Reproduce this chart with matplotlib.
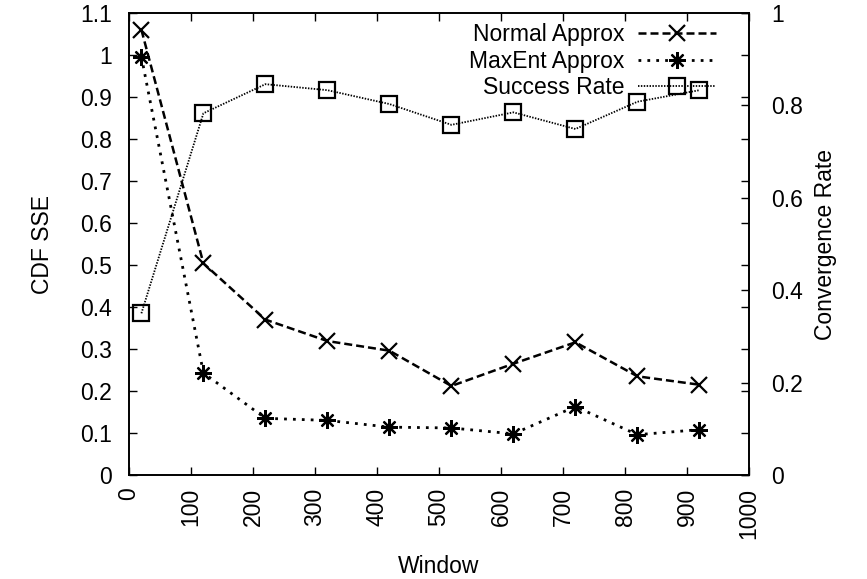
"""CDF SSE vs window size, with convergence rate on the second axis."""

import matplotlib
matplotlib.use("Agg")
import matplotlib.pyplot as plt
from matplotlib.lines import Line2D

plt.rcParams["font.family"] = ["Liberation Sans", "DejaVu Sans"]
plt.rcParams["font.size"] = 16.5

window = [20, 120, 220, 320, 420, 520, 620, 720, 820, 920]
normal_sse = [1.06, 0.504, 0.37, 0.319, 0.296, 0.212, 0.265, 0.316, 0.235, 0.215]
maxent_sse = [0.996, 0.243, 0.135, 0.13, 0.114, 0.112, 0.098, 0.163, 0.096, 0.108]
success_rate = [0.35, 0.783, 0.846, 0.833, 0.803, 0.758, 0.785, 0.749, 0.808, 0.833]

x_ticks = list(range(0, 1001, 100))
y_ticks = [i / 10 for i in range(12)]
y2_ticks = [0, 0.2, 0.4, 0.6, 0.8, 1]


def main():
    fig = plt.figure(figsize=(8.67, 5.79), dpi=100)
    ax = fig.add_axes([0.1488, 0.1796, 0.7151, 0.7979])
    ax2 = ax.twinx()

    normal_style = dict(color="black", lw=1.8, ls=(0, (3.2, 1.6)),
                        marker="x", ms=12, mew=1.6)
    maxent_style = dict(color="black", lw=2.0, ls=(0, (1.0, 2.2)),
                        marker=(8, 2, 0), ms=12, mew=1.6)
    success_style = dict(color="black", lw=1.3, ls=(0, (0.8, 0.8)),
                         marker="s", ms=11, mew=1.6, mfc="none")

    ax.plot(window, normal_sse, **normal_style)
    ax.plot(window, maxent_sse, **maxent_style)
    ax2.plot(window, success_rate, **success_style)

    ax.set_xlim(0, 1000)
    ax.set_ylim(0, 1.1)
    ax2.set_ylim(0, 1)
    ax.set_xticks(x_ticks)
    ax.set_xticklabels([str(t) for t in x_ticks], rotation=90)
    ax.set_yticks(y_ticks)
    ax.set_yticklabels(["0", "0.1", "0.2", "0.3", "0.4", "0.5", "0.6",
                        "0.7", "0.8", "0.9", "1", "1.1"])
    ax2.set_yticks(y2_ticks)
    ax2.set_yticklabels(["0", "0.2", "0.4", "0.6", "0.8", "1"])

    ax.tick_params(direction="in", length=6, width=1.0, top=True, right=True,
                   pad=12)
    ax.tick_params(axis="x", pad=9)
    ax2.tick_params(direction="in", length=6, width=1.0, pad=16)
    for a in (ax, ax2):
        for s in a.spines.values():
            s.set_linewidth(1.2)

    ax.set_xlabel("Window", labelpad=12)
    ax.set_ylabel("CDF SSE", labelpad=19)
    ax2.set_ylabel("Convergence Rate", labelpad=8)

    handles = [
        Line2D([0], [0], **normal_style),
        Line2D([0], [0], **maxent_style),
        Line2D([0], [0], **success_style),
    ]
    ax2.legend(handles, ["Normal Approx", "MaxEnt Approx", "Success Rate"],
               loc="upper right", bbox_to_anchor=(0.962, 0.998),
               frameon=False, markerfirst=False, handlelength=3.4,
               handletextpad=0.6, labelspacing=0.15, borderaxespad=0)

    fig.savefig("out.png", dpi=100)
    plt.close(fig)


if __name__ == "__main__":
    main()
